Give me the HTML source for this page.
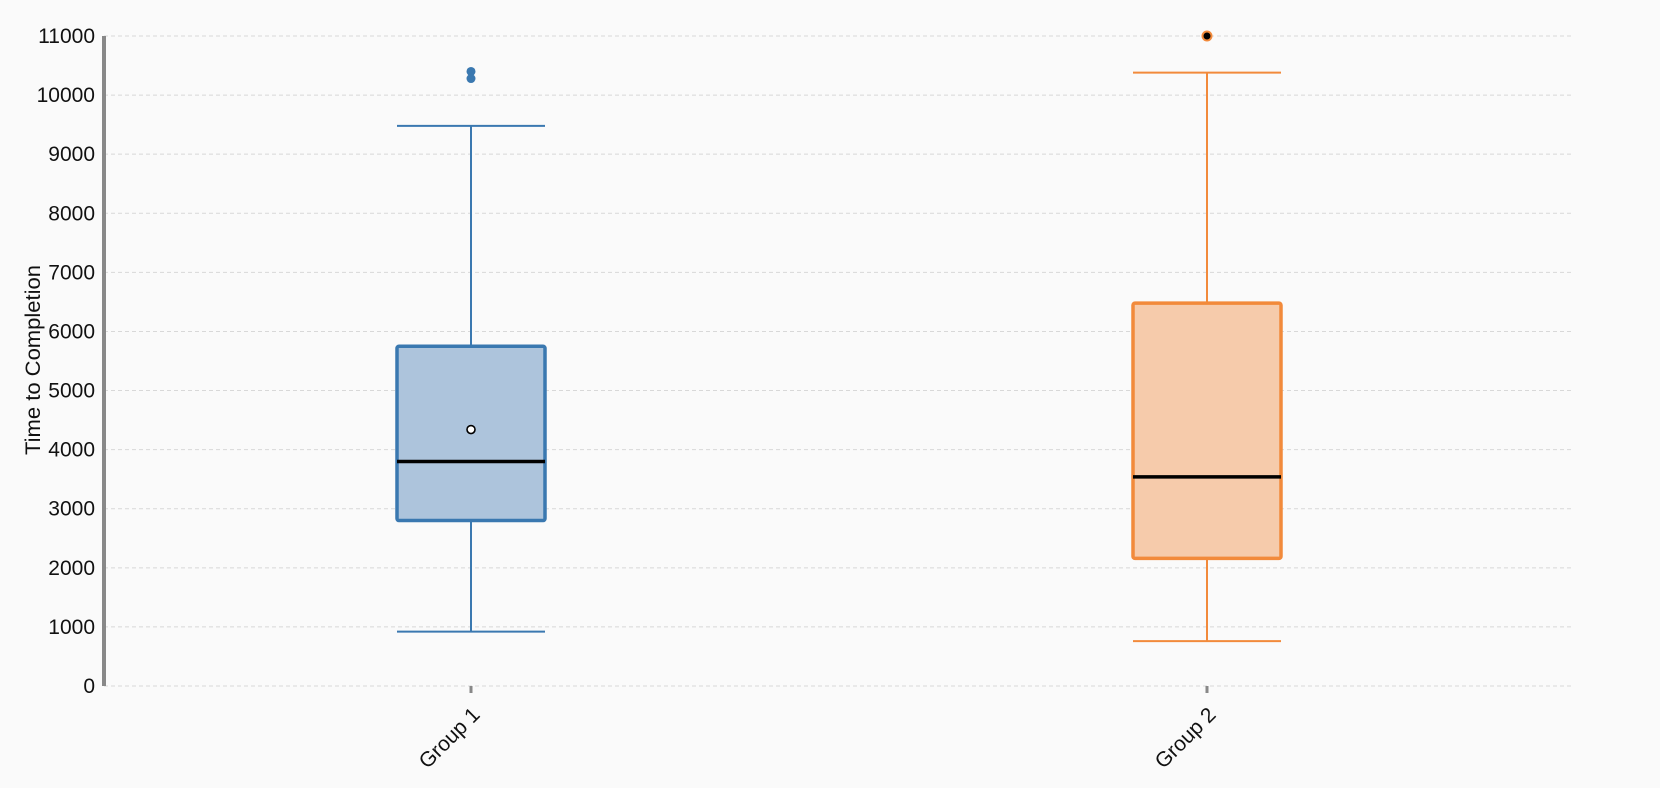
<!DOCTYPE html>
<html><head><meta charset="utf-8"><style>
html,body{margin:0;padding:0;background:#fafafa;}
svg{display:block;font-family:"Liberation Sans",sans-serif;}
</style></head><body>
<svg id="chart" width="1660" height="788"></svg>
<script>
const categories = ["Group 1", "Group 2"];
const whiskerLow = [920, 760];
const q1Values = [2800, 2160];
const medianValues = [3800, 3540];
const q3Values = [5750, 6480];
const whiskerHigh = [9480, 10380];
const meanValues = [4340, null];
const outliers = [[10400, 10280], [11000]];
const yTicks = [0,1000,2000,3000,4000,5000,6000,7000,8000,9000,10000,11000];

const NS = "http://www.w3.org/2000/svg";
const svgEl = document.getElementById("chart");
const plotLeft = 104, plotRight = 1572, plotTop = 36, plotBottom = 686;
const yMax = 11000;
const yScale = v => plotBottom - (v / yMax) * (plotBottom - plotTop);
const xCenters = [471, 1207];
const xScale = i => xCenters[0] + i * (xCenters[1] - xCenters[0]);
const halfW = 74;
const strokes = ["#3a78b0", "#f28a3b"];
const fills = ["#adc4dc", "#f6cbab"];

function mk(tag, attrs, parent) {
  const e = document.createElementNS(NS, tag);
  for (const k in attrs) e.setAttribute(k, attrs[k]);
  (parent || svgEl).appendChild(e);
  return e;
}

yTicks.forEach(t => {
  const g = mk("line", {x1: plotLeft, x2: plotRight, y1: yScale(t), y2: yScale(t), stroke: "#d8d8d8", "stroke-dasharray": "4,3", "stroke-width": 1});
  
  
  const lbl = mk("text", {x: plotLeft - 9, y: yScale(t) + 7, "text-anchor": "end", "font-size": 21, fill: "#111"});
  lbl.textContent = t;
  
  
});

const ax = mk("line", {x1: plotLeft, x2: plotLeft, y1: plotTop, y2: plotBottom, stroke: "#888", "stroke-width": 4});



const title = mk("text", {x: 0, y: 0, "text-anchor": "middle", "font-size": 21, fill: "#111", transform: "translate(40,360) rotate(-90)", textLength: 190, lengthAdjust: "spacingAndGlyphs"});
title.textContent = "Time to Completion";



categories.forEach((c, i) => {
  const cx = xScale(i);
  const g = mk("g", {});
  
  
  mk("line", {x1: cx, x2: cx, y1: yScale(whiskerHigh[i]), y2: yScale(q3Values[i]), stroke: strokes[i], "stroke-width": 2}, g);
  mk("line", {x1: cx, x2: cx, y1: yScale(q1Values[i]), y2: yScale(whiskerLow[i]), stroke: strokes[i], "stroke-width": 2}, g);
  mk("line", {x1: cx - halfW, x2: cx + halfW, y1: yScale(whiskerHigh[i]), y2: yScale(whiskerHigh[i]), stroke: strokes[i], "stroke-width": 2}, g);
  mk("line", {x1: cx - halfW, x2: cx + halfW, y1: yScale(whiskerLow[i]), y2: yScale(whiskerLow[i]), stroke: strokes[i], "stroke-width": 2}, g);
  mk("rect", {x: cx - halfW, y: yScale(q3Values[i]), width: halfW * 2, height: yScale(q1Values[i]) - yScale(q3Values[i]), fill: fills[i], stroke: strokes[i], "stroke-width": 3.5, rx: 2}, g);
  const med = mk("line", {x1: cx - halfW, x2: cx + halfW, y1: yScale(medianValues[i]), y2: yScale(medianValues[i]), stroke: "#000", "stroke-width": 3.5}, g);
  
  
  if (meanValues[i] !== null) {
    const m = mk("circle", {cx: cx, cy: yScale(meanValues[i]), r: 4, fill: "#fff", stroke: "#000", "stroke-width": 1.6}, g);
    
    
  }
  outliers[i].forEach(v => {
    const o = mk("circle", i === 0
      ? {cx: cx, cy: yScale(v), r: 4.5, fill: strokes[i]}
      : {cx: cx, cy: yScale(v), r: 4.5, fill: "#000", stroke: strokes[i], "stroke-width": 2}, g);
    
    
  });
  const tk = mk("line", {x1: cx, x2: cx, y1: plotBottom, y2: plotBottom + 7, stroke: "#888", "stroke-width": 3});
  
  
  const lbl = mk("text", {x: 0, y: 0, "text-anchor": "end", "font-size": 21, fill: "#111", transform: `translate(${cx + 10},${plotBottom + 30}) rotate(-45)`});
  lbl.textContent = c;
  
  
});
</script>
</body></html>
